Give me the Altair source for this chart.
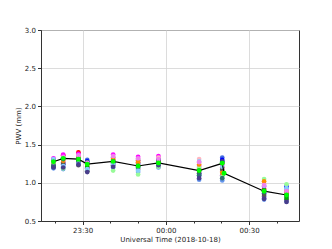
import altair as alt
import pandas as pd

# Cluster sample times (UTC)
cluster_times = [
    "2018-10-17T23:19:30Z", "2018-10-17T23:23:00Z", "2018-10-17T23:28:30Z",
    "2018-10-17T23:31:40Z", "2018-10-17T23:41:00Z", "2018-10-17T23:50:00Z",
    "2018-10-17T23:57:20Z", "2018-10-18T00:12:00Z", "2018-10-18T00:20:20Z",
    "2018-10-18T00:35:25Z", "2018-10-18T00:43:30Z",
]

series_names = [
    "s01", "s02", "s03", "s04", "s05", "s06", "s07", "s08",
    "s09", "s10", "s11", "s12", "s13", "s14", "s15",
]
series_colors = [
    "#6495ed", "#4169e1", "#0000ff", "#ff0000", "#ff00ff", "#ffb6c1", "#9932cc",
    "#555555", "#98fb98", "#ff8c00", "#00b000", "#2f6f6f", "#87cefa", "#ee82ee",
    "#483d8b",
]
s01 = [1.19, 1.18, 1.24, 1.16, 1.20, 1.14, 1.20, 1.04, 1.03, 0.78, 0.76]
s02 = [1.22, 1.21, 1.27, 1.30, 1.33, 1.30, 1.32, 1.09, 1.33, 0.82, 0.92]
s03 = [1.30, 1.24, 1.30, 1.28, 1.25, 1.26, 1.30, 1.12, 1.30, 0.86, 0.95]
s04 = [1.28, 1.36, 1.40, 1.25, 1.30, 1.29, 1.28, 1.18, 1.20, 0.92, 0.85]
s05 = [1.32, 1.37, 1.38, 1.20, 1.37, 1.34, 1.35, 1.22, 1.24, 0.95, 0.87]
s06 = [1.26, 1.30, 1.35, 1.22, 1.34, 1.31, 1.33, 1.31, 1.15, 0.99, 0.90]
s07 = [1.24, 1.27, 1.26, 1.19, 1.29, 1.24, 1.25, 1.14, 1.10, 0.80, 0.82]
s08 = [1.21, 1.25, 1.23, 1.15, 1.23, 1.18, 1.22, 1.12, 1.17, 0.84, 0.78]
s09 = [1.25, 1.19, 1.30, 1.17, 1.16, 1.11, 1.21, 1.20, 1.08, 1.05, 0.98]
s10 = [1.27, 1.29, 1.33, 1.24, 1.31, 1.27, 1.27, 1.24, 1.13, 1.02, 0.88]
s11 = [1.29, 1.33, 1.29, 1.21, 1.27, 1.22, 1.26, 1.16, 1.27, 0.90, 0.80]
s12 = [1.23, 1.31, 1.32, 1.27, 1.28, 1.20, 1.29, 1.10, 1.06, 0.88, 0.84]
s13 = [1.31, 1.22, 1.25, 1.18, 1.24, 1.16, 1.24, 1.28, 1.21, 0.96, 0.93]
s14 = [1.27, 1.34, 1.36, 1.26, 1.35, 1.32, 1.31, 1.27, 1.25, 0.97, 0.89]
s15 = [1.20, 1.20, 1.24, 1.14, 1.21, 1.22, 1.23, 1.06, 1.28, 0.79, 0.75]
series_values = [s01, s02, s03, s04, s05, s06, s07, s08, s09, s10, s11, s12, s13, s14, s15]

# Mean PWV line
mean_times = [
    "2018-10-17T23:19:30Z", "2018-10-17T23:23:00Z", "2018-10-17T23:28:30Z",
    "2018-10-17T23:31:40Z", "2018-10-17T23:41:00Z", "2018-10-17T23:50:00Z",
    "2018-10-17T23:57:20Z", "2018-10-18T00:12:00Z", "2018-10-18T00:20:20Z",
    "2018-10-18T00:21:00Z", "2018-10-18T00:35:25Z", "2018-10-18T00:43:30Z",
]
mean_values = [1.275, 1.32, 1.31, 1.245, 1.28, 1.22, 1.26, 1.16, 1.255, 1.125, 0.89, 0.84]

y_ticks = [0.5, 1.0, 1.5, 2.0, 2.5, 3.0]

rows = []
for name, vals in zip(series_names, series_values):
    for t, v in zip(cluster_times, vals):
        rows.append({"time": t, "pwv": v, "series": name})
scatter_df = pd.DataFrame(rows)
mean_df = pd.DataFrame({"time": mean_times, "pwv": mean_values})

def ms(s):
    return int(pd.Timestamp(s).value // 10**6)

x_domain = [ms("2018-10-17T23:15:00Z"), ms("2018-10-18T00:48:00Z")]
x_tick_values = [ms("2018-10-17T23:20:00Z") + i * 600000 for i in range(9)]
major = "utcminutes(datum.value) % 30 == 0"

x_enc = alt.X(
    "time:T",
    scale=alt.Scale(type="utc", domain=x_domain, nice=False),
    axis=alt.Axis(
        values=x_tick_values,
        labelExpr=f"{major} ? utcFormat(datum.value, '%H:%M') : ''",
        labelOverlap=False,
        labelFlush=False,
        gridOpacity={"condition": {"test": major, "value": 1}, "value": 0},
        tickSize={"condition": {"test": major, "value": 3.5}, "value": 2},
        title="Universal Time (2018-10-18)",
        titlePadding=2,
        labelPadding=2,
    ),
)
y_enc = alt.Y(
    "pwv:Q",
    scale=alt.Scale(domain=[0.5, 3.0], nice=False, zero=False),
    axis=alt.Axis(values=y_ticks, format=".1f", title="PWV (mm)", tickSize=3.5,
                  labelPadding=2, titlePadding=3),
)

scatter = alt.Chart(scatter_df).mark_circle(size=22, opacity=1).encode(
    x=x_enc, y=y_enc,
    color=alt.Color("series:N", scale=alt.Scale(domain=series_names, range=series_colors), legend=None),
)
line = alt.Chart(mean_df).mark_line(color="black", strokeWidth=1.2).encode(x=x_enc, y=y_enc)
pts = alt.Chart(mean_df).mark_circle(size=24, color="#00ff00", opacity=1).encode(x=x_enc, y=y_enc)

chart = (
    alt.layer(scatter, line, pts)
    .properties(width=258, height=191, autosize=alt.AutoSizeParams(type="none"),
                padding={"left": 33, "top": 22, "right": 20, "bottom": 26})
    .configure_view(stroke="#333333", strokeWidth=1)
    .configure_axis(
        labelFont="DejaVu Sans", labelFontSize=7, labelColor="#222222",
        titleFont="DejaVu Sans", titleFontSize=7, titleFontWeight="normal", titleColor="#222222",
        domainColor="#333333", tickColor="#333333", gridColor="#d3d3d3", gridWidth=0.8,
    )
)
chart.save("out.html", embed_options={"renderer": "svg", "actions": False})
